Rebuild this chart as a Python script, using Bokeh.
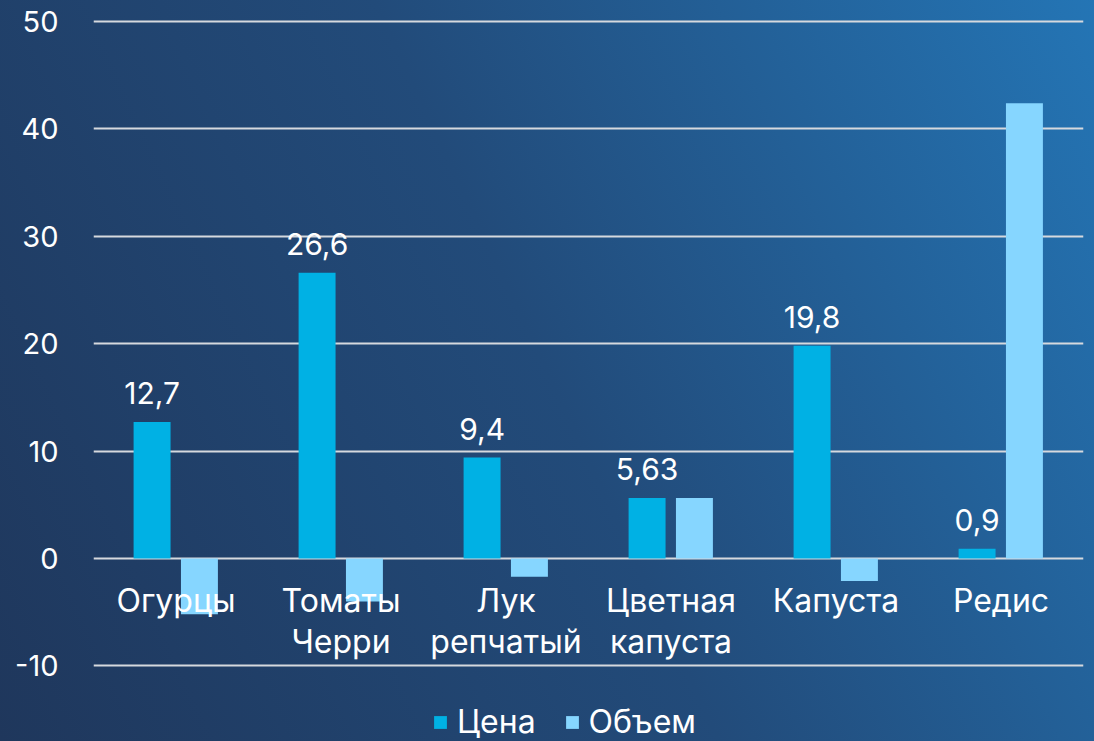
from bokeh.plotting import figure
from bokeh.models import FactorRange, FixedTicker, ColumnDataSource, Legend, LegendItem
from bokeh.transform import dodge
from bokeh.core.properties import value
from bokeh.embed import file_html
from bokeh.resources import INLINE

categories = ["Огурцы", "Томаты Черри", "Лук репчатый", "Цветная капуста", "Капуста", "Редис"]
cat_labels = ["Огурцы", "Томаты\nЧерри", "Лук\nрепчатый", "Цветная\nкапуста", "Капуста", "Редис"]
price = [12.7, 26.6, 9.4, 5.63, 19.8, 0.9]
price_labels = ["12,7", "26,6", "9,4", "5,63", "19,8", "0,9"]
volume = [-5.2, -4.0, -1.7, 5.64, -2.1, 42.4]
y_ticks = [-10, 0, 10, 20, 30, 40, 50]
y_tick_labels = {-10: "-10", 0: "0", 10: "10", 20: "20", 30: "30", 40: "40", 50: "50"}

FONT = "Inter"
W, H = 1094, 741

src = ColumnDataSource(dict(cat=categories, lab=cat_labels, price=price,
                            plab=price_labels, volume=volume,
                            zero=[0] * len(categories)))

p = figure(width=W, height=H, x_range=FactorRange(*categories), y_range=(-17.04, 50.28),
           output_backend="svg", toolbar_location=None,
           min_border_left=93, min_border_right=11, min_border_top=18, min_border_bottom=0)
p.border_fill_color = None
p.background_fill_color = None
p.outline_line_color = None
p.styles = {"background-image": "linear-gradient(65deg, #1f375c 0%, #224b7a 50%, #2475b5 100%)"}

r1 = p.vbar(x=dodge("cat", -0.145, range=p.x_range), top="price", width=0.224,
            source=src, fill_color="#00b1e4", line_color=None)
r2 = p.vbar(x=dodge("cat", 0.142, range=p.x_range), top="volume", width=0.224,
            source=src, fill_color="#86d6ff", line_color=None)

p.text(x=dodge("cat", -0.145, range=p.x_range), y="price", text="plab", source=src,
       text_align="center", text_baseline="bottom", y_offset=-18,
       text_color="white", text_font=value(FONT), text_font_size="30px")

p.text(x="cat", y="zero", text="lab", source=src, text_align="center",
       text_baseline="top", y_offset=23, text_line_height=1.04,
       text_color="white", text_font=value(FONT), text_font_size="32px")

p.xaxis.visible = False
p.xgrid.visible = False
p.yaxis.ticker = FixedTicker(ticks=y_ticks)
p.yaxis.major_label_overrides = y_tick_labels
p.yaxis.axis_line_color = None
p.yaxis.major_tick_line_color = None
p.yaxis.minor_tick_line_color = None
p.yaxis.major_label_text_color = "white"
p.yaxis.major_label_text_font = FONT
p.yaxis.major_label_text_font_size = "29px"
p.yaxis.major_label_standoff = 29
p.ygrid.ticker = FixedTicker(ticks=y_ticks)
p.ygrid.grid_line_color = "#d6d9de"
p.ygrid.grid_line_width = 2

legend = Legend(items=[LegendItem(label="Цена", renderers=[r1]),
                       LegendItem(label="Объем", renderers=[r2])],
                location=(339, 0), orientation="horizontal",
                background_fill_alpha=0, border_line_color=None,
                label_text_color="white", label_text_font=FONT,
                label_text_font_size="32px", glyph_width=16, glyph_height=16,
                label_standoff=9, spacing=28, padding=0, margin=0)
p.add_layout(legend, "center")

open("out.html", "w").write(file_html(p, INLINE))
